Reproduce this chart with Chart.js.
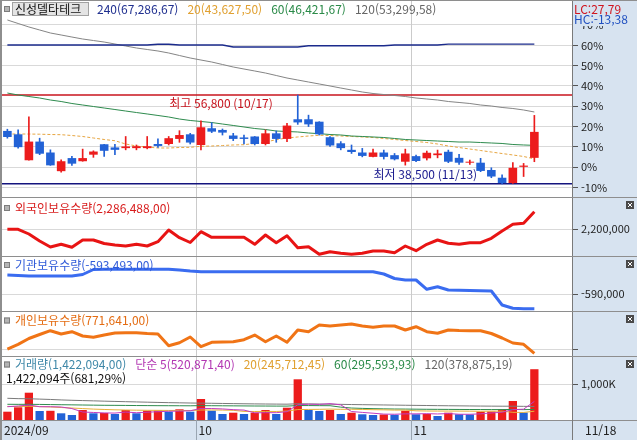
<!DOCTYPE html>
<html lang="ko"><head><meta charset="utf-8">
<title>신성델타테크</title>
<script src="https://cdn.jsdelivr.net/npm/chart.js@4.4.1/dist/chart.umd.min.js"></script>
<style>
html,body{margin:0;padding:0;background:#fff;}
#wrap{position:relative;width:637px;height:440px;overflow:hidden;background:#fff}
#wrap canvas{position:absolute;left:0;display:block}
</style></head>
<body><div id="wrap">
<canvas id="c1" width="637" height="197" style="top:0px"></canvas>
<canvas id="c2" width="637" height="59" style="top:197px"></canvas>
<canvas id="c3" width="637" height="55" style="top:256px"></canvas>
<canvas id="c4" width="637" height="45" style="top:311px"></canvas>
<canvas id="c5" width="637" height="84" style="top:356px"></canvas>
</div>
<script>
// ---------------- data ----------------
const stockName = '신성델타테크';
const dates = ['2024-09-02','2024-09-03','2024-09-04','2024-09-05','2024-09-06','2024-09-09','2024-09-10','2024-09-11','2024-09-12','2024-09-13','2024-09-19','2024-09-20','2024-09-23','2024-09-24','2024-09-25','2024-09-26','2024-09-27','2024-09-30',
'2024-10-02','2024-10-04','2024-10-07','2024-10-08','2024-10-10','2024-10-11','2024-10-14','2024-10-15','2024-10-16','2024-10-17','2024-10-18','2024-10-21','2024-10-22','2024-10-23','2024-10-24','2024-10-25','2024-10-28','2024-10-29','2024-10-30','2024-10-31',
'2024-11-01','2024-11-04','2024-11-05','2024-11-06','2024-11-07','2024-11-08','2024-11-11','2024-11-12','2024-11-13','2024-11-14','2024-11-15','2024-11-18'];

const open  = [49400,48700,43350,47200,44950,41100,43800,43150,44500,46650,46000,45850,45850,45850,46700,46700,47750,48700,46500,49950,49600,48450,48050,48250,46700,48900,47750,51800,51800,51300,48100,46850,45500,44950,44050,44950,44400,43050,44200,43750,44400,45100,43850,42850,42850,41350,39750,38650,42000,43850];
const high  = [49750,49600,52300,47900,45500,43450,44150,45650,45300,46650,46650,48250,46500,48250,47750,48250,49450,48900,51500,51100,49800,48900,48550,48250,49600,49400,50950,56800,52650,51300,48250,47200,46500,45800,45650,45450,44750,45650,44400,45250,45450,45450,44550,43400,43750,41800,40350,42850,42700,52600];
const low   = [47900,45850,43350,44500,42300,40900,42300,43150,43950,44150,44500,45500,45500,45700,46000,46500,47050,46700,45500,49050,48550,47400,46700,46500,46500,47050,47200,50750,50300,48550,46200,45500,44750,44050,44050,43600,43400,42350,43050,43400,43850,42850,42500,42500,41000,39750,38500,38600,40000,43050];
const close = [48150,46050,47200,44700,42300,43150,42650,43800,45150,45300,45500,46200,46250,46250,46300,47900,48550,47000,50150,49250,49050,47750,47750,46700,48900,47750,50500,51150,50750,48700,46400,45850,45050,44250,44950,44050,43550,44750,43200,44900,44750,43050,42850,43050,41150,40000,38650,41800,42250,49200];

const ma240 = [67100,67100,67100,67100,67100,67100,67100,67100,67100,67100,67100,67100,67100,67100,67250,67250,67100,67100,67100,67100,67100,66700,66700,66700,66700,66700,66700,66700,66950,66950,66950,66950,66950,66950,66950,66950,67100,67100,67100,67100,67100,67290,67290,67290,67290,67290,67290,67290,67290,67286.67];
const ma120 = [72260,71540,70820,70200,69580,69170,68750,68340,68030,67720,67310,66900,66490,66180,65870,65460,64940,64430,64010,63600,63090,62570,62160,61750,61330,60820,60300,59890,59480,59070,58660,58240,57830,57420,57110,56900,56700,56490,56180,55980,55770,55460,55260,55050,54740,54530,54230,54020,53710,53299.58];
const ma60  = [57210,56800,56490,56180,55770,55460,55050,54740,54430,54120,53810,53500,53190,52890,52580,52270,51850,51550,51340,51130,50820,50520,50210,49900,49690,49380,49280,49180,48970,48830,48660,48560,48350,48250,48150,48040,47840,47630,47530,47420,47320,47220,47110,47110,47010,46910,46810,46600,46500,46421.67];
const ma20  = [48760,48760,48760,48720,48660,48620,48450,48250,47940,47630,47380,46700,46290,46080,45880,45880,45980,46020,46230,46290,46390,46500,46560,46810,47110,47590,47940,48150,48350,48500,48450,48350,48250,48150,48040,47840,47630,47420,47220,47010,46700,46290,45980,45670,45360,45050,44740,44440,44130,43627.50];

const pctBase  = 41900;                     // 0% reference price of the right axis
const pctTicks = [-10,0,10,20,30,40,50,60,70];

const foreignHold = [2198500,2198500,2175000,2140000,2110000,2123500,2108500,2145000,2145000,2127500,2120000,2115000,2123500,2115000,2136500,2195000,2156500,2132500,2186500,2158500,2158500,2158500,2158500,2123500,2170000,2131500,2166500,2106500,2111500,2073500,2086500,2078500,2073500,2078500,2090000,2090000,2081500,2115000,2091500,2123500,2145000,2128500,2123500,2131500,2131500,2153500,2190000,2223500,2228500,2286488];
const instHold = [-585370,-585490,-585610,-585610,-585610,-585610,-585610,-585250,-584050,-584000,-584000,-584000,-584000,-584000,-584000,-584000,-584170,-584410,-584580,-584580,-584580,-584580,-584580,-584580,-584580,-584580,-584580,-584580,-584580,-584580,-584580,-584580,-584580,-584580,-584580,-585130,-586210,-586570,-586570,-588800,-588180,-588970,-589040,-589090,-589140,-589210,-592570,-593360,-593460,-593493];
const indivHold = [793100,816600,845600,865600,884600,868100,879600,858100,851600,863100,873100,874600,874600,870600,868100,809600,824600,853100,804600,826600,828100,829600,839600,863100,829600,858100,826600,888100,879600,913100,908100,913100,918100,908100,901600,908100,908100,888100,904600,879600,871600,888100,885600,884600,884600,870600,848100,823100,816600,771641];
const foreignTicks = [2200000];
const instTicks = [-590000];
const indivTicks = [790000];

const volume = [232400,355600,764400,252000,257600,187600,140000,280000,187600,196000,168000,280000,187600,260400,266000,232400,299600,232400,588000,260400,168000,204400,168000,204400,280000,168000,344400,1139600,280000,252000,280000,168000,204400,159600,140000,154000,145600,260400,159600,168000,112000,204400,159600,154000,232400,238000,299600,532000,208736,1422094];
const volMa5   = [372000,392000,420000,372000,372000,364000,320000,224000,211000,198000,194000,222000,204000,218000,232000,245000,249000,258000,324000,322000,310000,290000,278000,201000,205000,205000,233000,427000,442000,437000,459000,424000,237000,213000,190000,165000,161000,172000,172000,178000,169000,181000,161000,160000,172000,198000,217000,291000,302000,520871.40];
const volMa20  = [380000,375000,385000,375000,365000,350000,335000,320000,305000,295000,285000,280000,275000,272000,270000,268000,268000,266000,280000,281000,278000,271000,241000,238000,240000,239000,249000,292000,296000,299000,305000,299000,300000,295000,289000,285000,277000,278000,257000,252000,250000,250000,249000,247000,244000,248000,246000,215000,212000,245712.45];
const volMa60  = [440000,438000,440000,436000,432000,428000,424000,420000,416000,412000,410000,408000,405000,403000,401000,400000,399000,398000,402000,400000,398000,396000,394000,392000,391000,389000,389000,405000,404000,402000,400000,360000,335000,325000,318000,312000,308000,306000,303000,300000,298000,297000,295000,294000,293000,292000,292000,295000,290000,295593.93];
const volMa120 = [608000,598000,595000,585000,575000,562000,552000,544000,536000,528000,520000,513000,506000,499000,492000,486000,481000,476000,472000,468000,463000,459000,455000,451000,448000,445000,443000,455000,451000,447000,442000,438000,433000,429000,425000,421000,417000,413000,409000,406000,402000,399000,396000,393000,390000,388000,386000,386000,382000,378875.19];
const volTicks = [1000000];

// ---------------- style ----------------
const FONT = '"Noto Sans CJK KR", "Noto Sans", sans-serif';
const UP = '#ec1c1c', DOWN = '#2262d6';
const GRID = '#d9d9d9', VGRID = '#cbcbcb', FRAME = '#8e8e8e', AXIS_BG = '#d7e3f0';
const AXIS_W = 65, LEFT = 2, EXTRA_SLOTS = 3;
Chart.defaults.font.family = FONT;

const N = dates.length;
const slotLabels = dates.concat(Array.from({length: EXTRA_SLOTS}, (_, k) => '~' + k));
const monthStarts = dates.map((d, i) => i).filter(i => i > 0 && dates[i].slice(5, 7) !== dates[i - 1].slice(5, 7));

const fmt0 = v => Math.round(v).toLocaleString('en-US');
const fmt2 = v => v.toLocaleString('en-US', {minimumFractionDigits: 2, maximumFractionDigits: 2}).replace('.', ',');
const md = d => d.slice(5, 7) + '/' + d.slice(8, 10);

function boundaryX(xs, i) { return Math.round((xs.getPixelForValue(i - 1) + xs.getPixelForValue(i)) / 2) + 0.5; }
function legendBox(ctx, x, y) {
  ctx.fillStyle = '#b4b4b4'; ctx.fillRect(x, y - 3, 6, 6);
  ctx.strokeStyle = '#7c7c7c'; ctx.lineWidth = 1; ctx.strokeRect(x + 0.5, y - 2.5, 5, 5);
}
function drawItems(ctx, x, y, items, gap) {
  ctx.textAlign = 'left'; ctx.textBaseline = 'middle';
  items.forEach(([t, c]) => { ctx.fillStyle = c; ctx.fillText(t, x, y); x += ctx.measureText(t).width + gap; });
}
function closeIcon(ctx, chart) {
  const x = chart.width - 11, y = 4;
  ctx.fillStyle = '#4a4a4a'; ctx.fillRect(x, y, 8, 8);
  ctx.strokeStyle = '#fff'; ctx.lineWidth = 1;
  ctx.beginPath(); ctx.moveTo(x + 2, y + 2); ctx.lineTo(x + 6, y + 6); ctx.moveTo(x + 6, y + 2); ctx.lineTo(x + 2, y + 6); ctx.stroke();
}

const commonPlugin = {
  id: 'common',
  beforeDraw(chart) {
    const {ctx, width, height, chartArea: a} = chart;
    ctx.save();
    ctx.fillStyle = '#fff'; ctx.fillRect(0, 0, width, height);
    ctx.fillStyle = AXIS_BG; ctx.fillRect(a.right, 0, width - a.right, height);
    ctx.restore();
  },
  beforeDatasetsDraw(chart) {
    const {ctx, chartArea: a, scales: {x}} = chart;
    ctx.save(); ctx.strokeStyle = VGRID; ctx.lineWidth = 1;
    monthStarts.forEach(i => { const px = boundaryX(x, i); ctx.beginPath(); ctx.moveTo(px, a.top); ctx.lineTo(px, a.bottom); ctx.stroke(); });
    ctx.restore();
  },
  afterDraw(chart) {
    const {ctx, width, height} = chart;
    ctx.save(); ctx.fillStyle = FRAME;
    ctx.fillRect(0, 0, width, 1);
    ctx.fillRect(0, 0, 2, height);
    ctx.restore();
  }
};

function panel(id, cfg) {
  const options = {
    responsive: false, animation: false, events: [],
    layout: {padding: {left: LEFT, right: 0, top: cfg.padTop, bottom: cfg.padBottom}},
    plugins: {legend: {display: false}, tooltip: {enabled: false}},
    scales: {
      x: {type: 'category', labels: slotLabels, offset: true, display: false},
      y: {
        position: 'right', min: cfg.min, max: cfg.max,
        afterBuildTicks(s) { s.ticks = cfg.ticks.map(v => ({value: v})); },
        afterFit(s) { s.width = AXIS_W; s.paddingTop = 0; s.paddingBottom = 0; },
        grid: {color: GRID, tickColor: '#555', tickLength: 6, drawTicks: true, lineWidth: 1},
        border: {display: true, color: '#7a7a7a', width: 1},
        ticks: {color: '#222', font: {family: FONT, size: 11}, padding: 3, autoSkip: false, maxRotation: 0, callback: cfg.label}
      }
    }
  };
  return new Chart(document.getElementById(id), {
    type: 'bar',
    data: {labels: slotLabels, datasets: cfg.datasets},
    options,
    plugins: [commonPlugin].concat(cfg.plugins || [])
  });
}
const lineDs = (data, color, width, extra) => Object.assign({type: 'line', data, borderColor: color, borderWidth: width, pointRadius: 0, tension: 0, fill: false, borderJoinStyle: 'round'}, extra || {});

// ---------------- panel 1 : price ----------------
const candleColor = open.map((o, i) => close[i] >= o ? UP : DOWN);
const maxHigh = Math.max(...high), minLow = Math.min(...low);
const hiIdx = high.indexOf(maxHigh), loIdx = low.indexOf(minLow);
const last = N - 1;

const pricePlugin = {
  id: 'price',
  beforeDatasetsDraw(chart) {
    const {ctx, chartArea: a, scales: {x, y}} = chart;
    const yh = y.getPixelForValue(maxHigh), yl = y.getPixelForValue(minLow);
    ctx.save();
    ctx.lineWidth = 1.5;
    ctx.strokeStyle = '#c8141e'; ctx.beginPath(); ctx.moveTo(a.left, yh); ctx.lineTo(a.right, yh); ctx.stroke();
    ctx.strokeStyle = '#14147e'; ctx.beginPath(); ctx.moveTo(a.left, yl); ctx.lineTo(a.right, yl); ctx.stroke();
    ctx.font = '12px ' + FONT; ctx.textAlign = 'right'; ctx.textBaseline = 'middle';
    ctx.fillStyle = '#c8141e';
    ctx.fillText('최고 ' + fmt0(maxHigh) + ' (' + md(dates[hiIdx]) + ')', x.getPixelForValue(hiIdx) - 25, yh + 8);
    ctx.fillStyle = '#1a1a8e';
    ctx.fillText('최저 ' + fmt0(minLow) + ' (' + md(dates[loIdx]) + ')', x.getPixelForValue(loIdx) - 25, yl - 9);
    ctx.restore();
  },
  afterDraw(chart) {
    const {ctx, chartArea: a, width} = chart;
    ctx.save();
    legendBox(ctx, 4, 9);
    ctx.fillStyle = '#e4e4e4'; ctx.fillRect(12, 2, 77, 14);
    ctx.strokeStyle = '#a2a2a2'; ctx.lineWidth = 1; ctx.strokeRect(12.5, 2.5, 76, 13);
    ctx.font = '12px ' + FONT; ctx.fillStyle = '#111'; ctx.textBaseline = 'middle'; ctx.textAlign = 'left';
    ctx.fillText(stockName, 15, 9.5);
    drawItems(ctx, 97, 9.5, [
      ['240(' + fmt2(ma240[last]) + ')', '#1f2f8f'],
      ['20(' + fmt2(ma20[last]) + ')', '#e0a030'],
      ['60(' + fmt2(ma60[last]) + ')', '#2a8a48'],
      ['120(' + fmt2(ma120[last]) + ')', '#666666']
    ], 9);
    // LC / HC box (covers the upper part of the top tick label, as in the terminal)
    const lc = (close[last] / minLow - 1) * 100, hc = (close[last] / maxHigh - 1) * 100;
    ctx.fillStyle = AXIS_BG; ctx.fillRect(a.right + 1, 1, width - a.right - 1, 25);
    ctx.font = '12px ' + FONT; ctx.textAlign = 'left';
    ctx.fillStyle = '#d0141e'; ctx.fillText('LC:' + fmt2(lc), a.right + 2, 9);
    ctx.fillStyle = '#2050c0'; ctx.fillText('HC:' + fmt2(hc), a.right + 2, 19.5);
    ctx.restore();
  }
};

panel('c1', {
  padTop: 1, padBottom: 0, min: 35779, max: 76175,
  ticks: pctTicks.map(p => pctBase * (1 + p / 100)),
  label: v => Math.round((v / pctBase - 1) * 100) + '%',
  datasets: [
    {type: 'bar', data: open.map((o, i) => [Math.min(o, close[i]), Math.max(o, close[i])]), backgroundColor: candleColor, grouped: false, barPercentage: 0.8, categoryPercentage: 1, minBarLength: 1, order: 0},
    {type: 'bar', data: low.map((l, i) => [l, high[i]]), backgroundColor: candleColor, grouped: false, barThickness: 1, order: 1},
    lineDs(ma240, '#1b2b8c', 1.4, {order: 2}),
    lineDs(ma120, '#858585', 1, {order: 3}),
    lineDs(ma60, '#2e8b4e', 1, {order: 4}),
    lineDs(ma20, '#e7a642', 1, {order: 5, borderDash: [3, 2]})
  ],
  plugins: [pricePlugin]
});

// ---------------- panel 2..4 : holdings ----------------
function holdPlugin(name, values, color, ly) {
  return {
    id: 'hold' + name,
    afterDraw(chart) {
      const {ctx} = chart;
      ctx.save();
      legendBox(ctx, 4, ly);
      ctx.font = '12px ' + FONT;
      drawItems(ctx, 15, ly, [[name + '(' + fmt2(values[values.length - 1]) + ')', color]], 0);
      closeIcon(ctx, chart);
      ctx.restore();
    }
  };
}
panel('c2', {
  padTop: 1, padBottom: 0, min: 2065000, max: 2355000, ticks: foreignTicks, label: v => fmt0(v),
  datasets: [lineDs(foreignHold, '#e81414', 3)],
  plugins: [holdPlugin('외국인보유수량', foreignHold, '#d81c1c', 11)]
});
panel('c3', {
  padTop: 1, padBottom: 0, min: -594008, max: -581048, ticks: instTicks, label: v => fmt0(v),
  datasets: [lineDs(instHold, '#3a6cf0', 3)],
  plugins: [holdPlugin('기관보유수량', instHold, '#2f5ad8', 9)]
});
panel('c4', {
  padTop: 1, padBottom: 0, min: 758141, max: 978141, ticks: indivTicks, label: () => '',
  datasets: [lineDs(indivHold, '#f07416', 3)],
  plugins: [holdPlugin('개인보유수량', indivHold, '#e46c12', 9.5)]
});

// ---------------- panel 5 : volume ----------------
const volColor = volume.map((v, i) => (i === 0 || v >= volume[i - 1]) ? UP : DOWN);
const volPlugin = {
  id: 'vol',
  afterDraw(chart) {
    const {ctx, chartArea: a, width, height, scales: {x}} = chart;
    ctx.save();
    legendBox(ctx, 4, 8.5);
    ctx.font = '12px ' + FONT;
    drawItems(ctx, 15, 8.5, [
      ['거래량(' + fmt2(volume[last]) + ')', '#3f88a8'],
      ['단순 5(' + fmt2(volMa5[last]) + ')', '#b236b2'],
      ['20(' + fmt2(volMa20[last]) + ')', '#e0a030'],
      ['60(' + fmt2(volMa60[last]) + ')', '#2a8a48'],
      ['120(' + fmt2(volMa120[last]) + ')', '#666666']
    ], 9);
    ctx.fillStyle = '#111'; ctx.textAlign = 'left';
    ctx.fillText(fmt0(volume[last]) + '주(' + fmt2(volume[last] / volume[last - 1] * 100) + '%)', 6, 22);
    closeIcon(ctx, chart);
    // date strip
    ctx.fillStyle = AXIS_BG; ctx.fillRect(0, a.bottom, width, height - a.bottom);
    ctx.fillStyle = FRAME; ctx.fillRect(0, a.bottom, width, 1); ctx.fillRect(0, a.bottom, 2, height - a.bottom);
    ctx.strokeStyle = '#9aa6b2'; ctx.lineWidth = 1;
    monthStarts.forEach(i => { const px = boundaryX(x, i); ctx.beginPath(); ctx.moveTo(px, a.bottom); ctx.lineTo(px, height); ctx.stroke(); });
    ctx.strokeStyle = '#7a7a7a';
    ctx.beginPath(); ctx.moveTo(a.right + 0.5, a.bottom); ctx.lineTo(a.right + 0.5, height); ctx.stroke();
    ctx.font = '12px ' + FONT; ctx.fillStyle = '#222'; ctx.textBaseline = 'middle'; ctx.textAlign = 'left';
    const ty = a.bottom + 10.5;
    ctx.fillText(dates[0].slice(0, 4) + '/' + dates[0].slice(5, 7), a.left + 2, ty);
    monthStarts.forEach(i => ctx.fillText(dates[i].slice(5, 7), boundaryX(x, i) + 2, ty));
    ctx.fillText(md(dates[last]), a.right + 13, ty);
    ctx.restore();
  }
};
panel('c5', {
  padTop: 1, padBottom: 20, min: 0, max: 1764000, ticks: volTicks, label: v => (v / 1000).toLocaleString('en-US') + 'K',
  datasets: [
    lineDs(volMa5, '#c03cc0', 1, {order: 0}),
    lineDs(volMa20, '#e8b038', 1, {order: 0}),
    lineDs(volMa60, '#2e8b4e', 1, {order: 0}),
    lineDs(volMa120, '#7a7a7a', 1, {order: 0}),
    {type: 'bar', data: volume, backgroundColor: volColor, barPercentage: 0.77, categoryPercentage: 1, order: 1}
  ],
  plugins: [volPlugin]
});
</script></body></html>
